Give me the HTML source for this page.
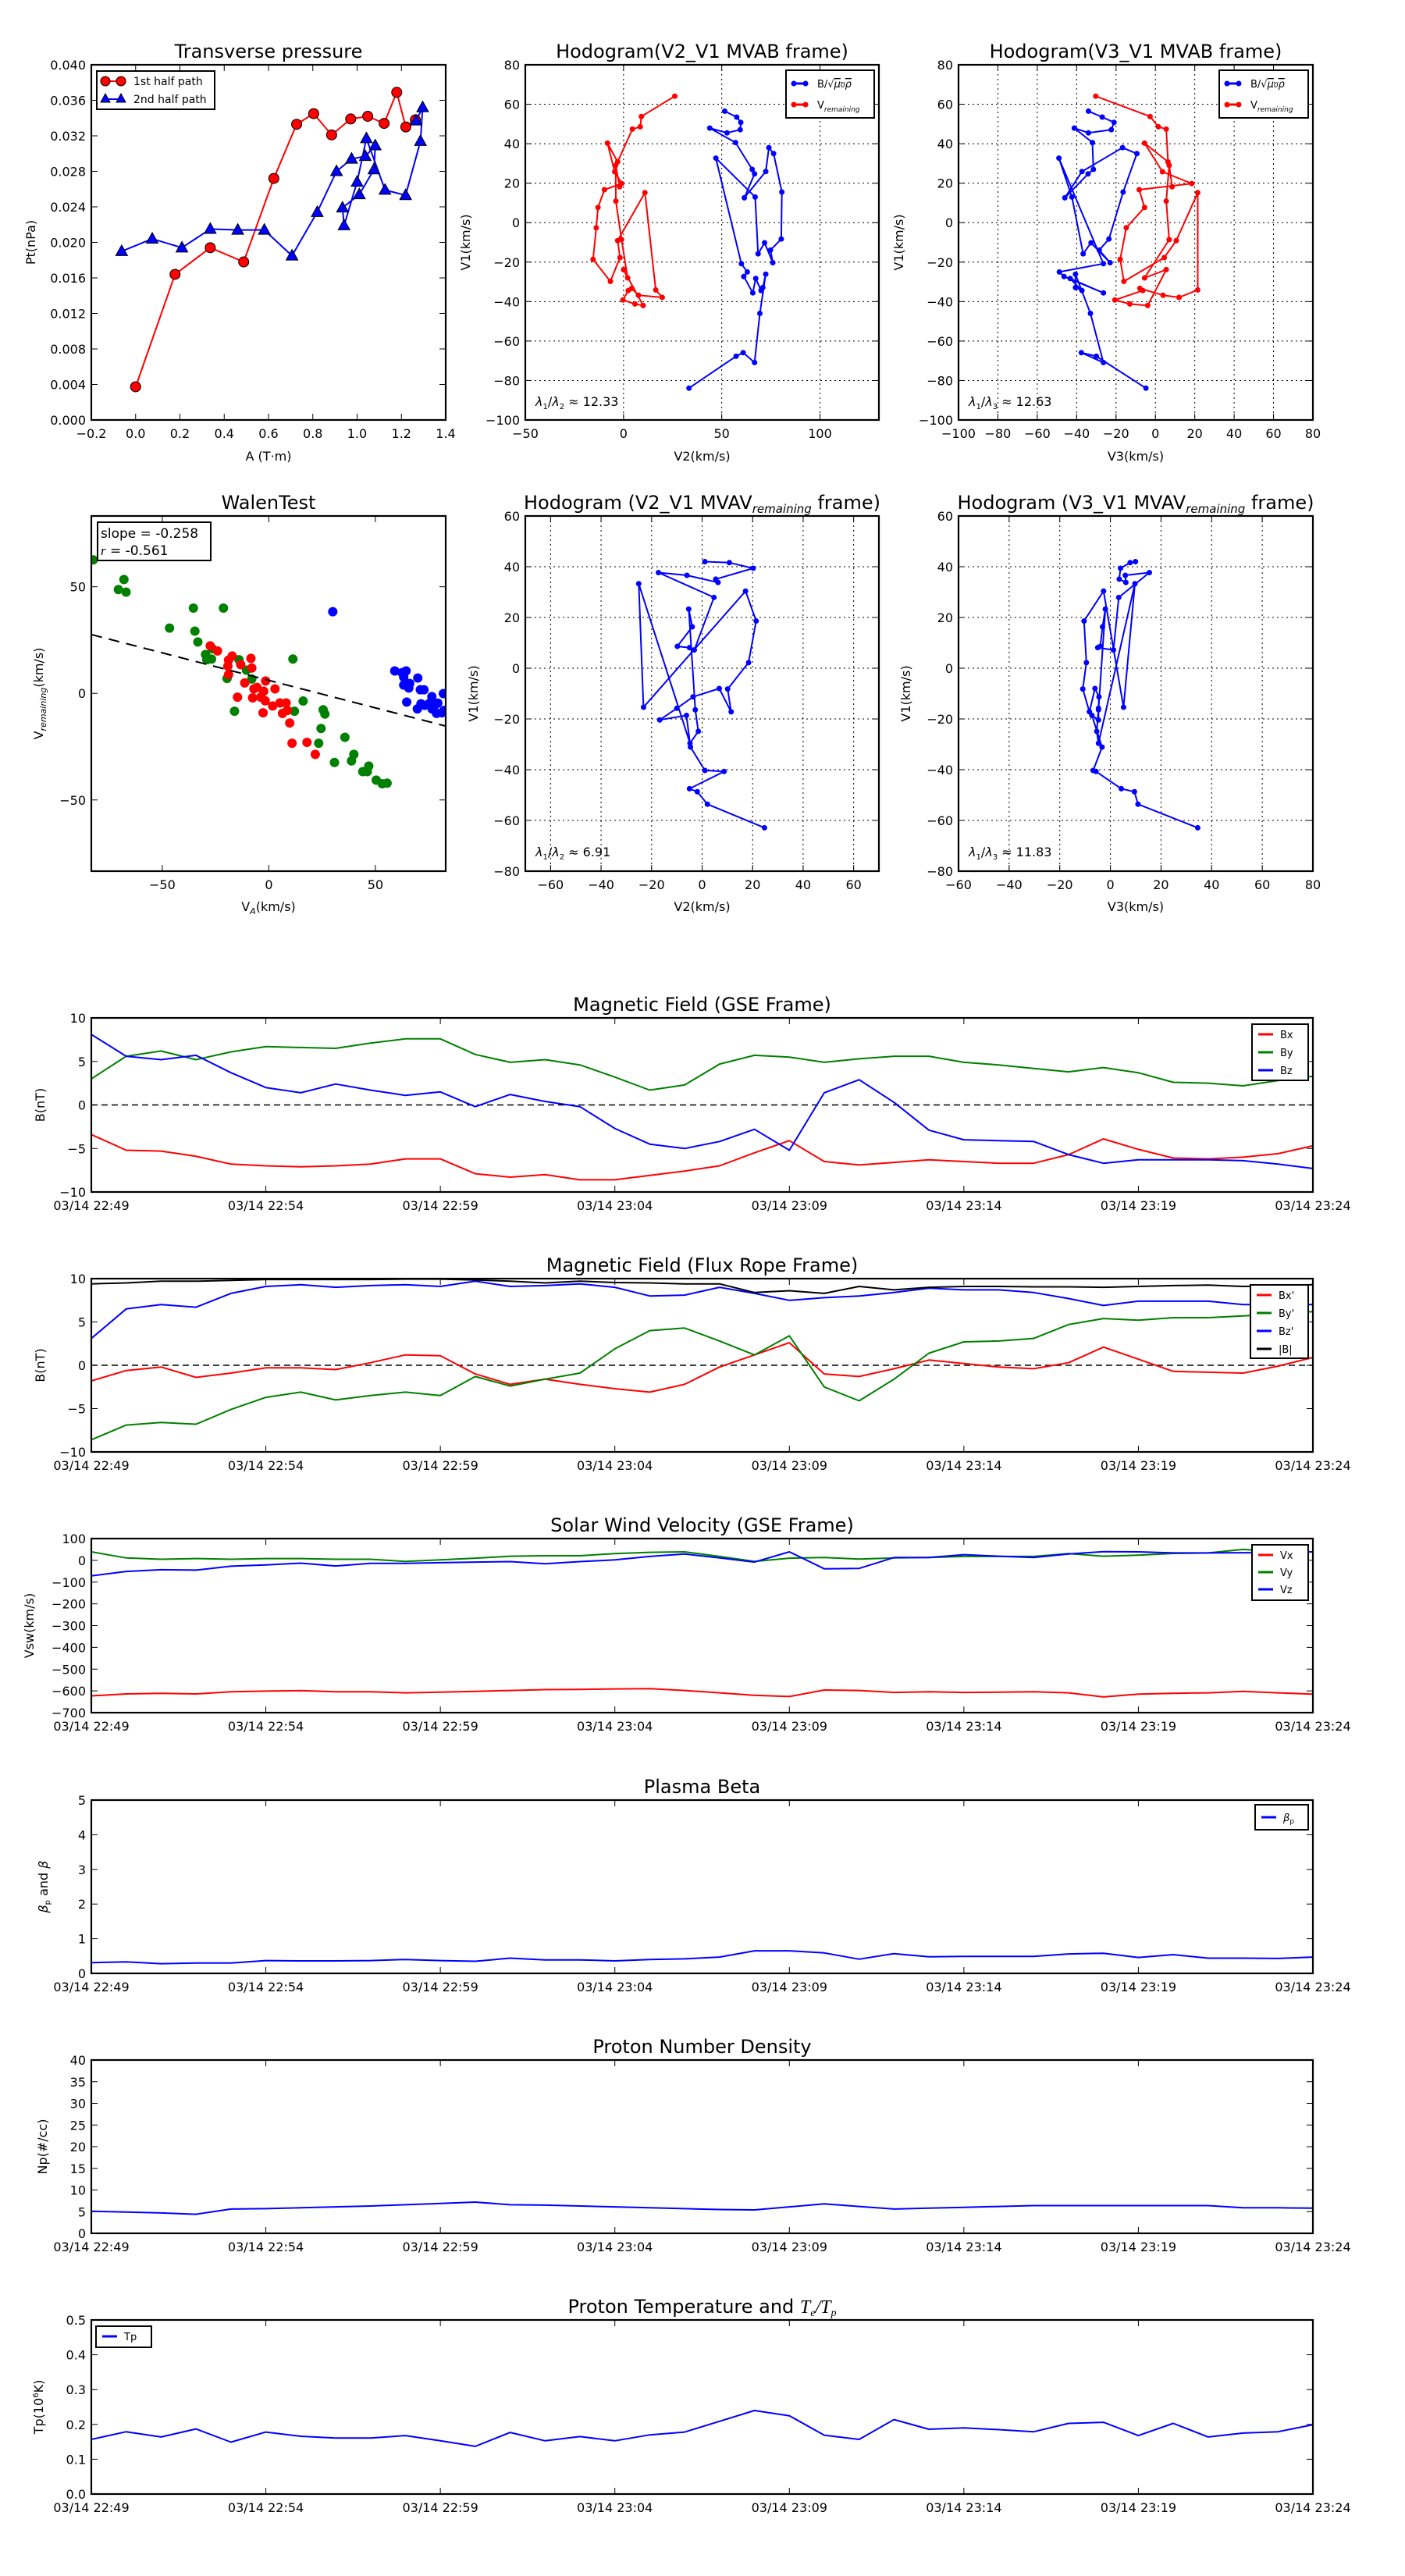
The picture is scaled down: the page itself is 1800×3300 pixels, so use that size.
<!DOCTYPE html>
<html>
<head>
<meta charset="utf-8">
<style>
html,body{margin:0;padding:0;background:#fff;}
svg{display:block;font-family:"DejaVu Sans","Liberation Sans",sans-serif;}
</style>
</head>
<body>
<svg id="fig" xmlns="http://www.w3.org/2000/svg" width="1800" height="3300" viewBox="0 0 1800 3300"></svg>
<script>
// ---------- DATA ----------
// Transverse pressure
const tpA1 = [0,0.178,0.337,0.488,0.624,0.727,0.804,0.885,0.971,1.048,1.122,1.179,1.220,1.263];
const tpP1 = [0.00374,0.0164,0.0194,0.0178,0.0272,0.0333,0.0345,0.0321,0.0339,0.0342,0.0334,0.0369,0.0330,0.0338];
const tpA2 = [-0.063,0.075,0.209,0.337,0.461,0.581,0.706,0.820,0.907,0.975,1.037,1.082,1.076,1.010,0.934,0.941,1.000,1.042,1.126,1.219,1.286,1.296,1.266];
const tpP2 = [0.0190,0.0204,0.0194,0.0215,0.0214,0.0214,0.0185,0.0234,0.0280,0.0294,0.0297,0.0309,0.0282,0.0254,0.0239,0.0219,0.0268,0.0317,0.0259,0.0253,0.0314,0.0352,0.0337];
// MVAB hodogram - B
const hbV1 = [56.5,53.5,50.8,47.1,45.5,47.9,40.6,27,24.7,12.6,25.9,38,35,15.5,-8.3,-13.9,-20.3,-10.2,-15.8,13,32.7,-20.8,-25,-27.3,-35.6,-28.3,-34.4,-32.9,-26.1,-46,-70.9,-65.9,-67.7,-83.9];
const hbV2 = [51.5,57.6,59.7,59.4,52.7,43.9,57,65.5,66.7,61.5,72.4,74,76.4,80.6,80.3,74.8,76,71.8,68.5,67,47,60,63,61.2,65.8,67.3,70,70.9,72.4,69.4,66.7,60.9,57.3,33.3];
const hbV3 = [-34,-27,-21,-22.4,-34,-41.2,-32,-31.5,-34.2,-46,-37.3,-16.7,-9.4,-16.4,-23.6,-28.5,-23,-32.7,-36.7,-42.4,-49,-26.4,-48.8,-46.4,-26.4,-43.3,-37.3,-40.6,-40.6,-33,-26.4,-37.6,-30,-4.8];
// MVAB hodogram - V remaining
const hrV1 = [64.1,53.8,48.6,47.4,30.8,40.3,25.8,19.8,16.7,7.7,-2.6,-18.6,-29.8,-17.7,-9.1,15.2,-34.1,-37.9,-36.8,-33.3,-34.4,-39.2,-41.2,-42,-23.8,-28,-8.6,10.9,29,18.2];
const hrV2 = [26.1,9.1,8.5,4.5,-3,-8.2,-4.5,-0.9,-9.7,-13,-13.9,-15.5,-6.7,-1.8,-3,10.9,16.4,19.7,7.6,4.2,2.4,-0.3,5.8,10,0,2.1,-1,-3.9,-4,-2];
const hrV3 = [-30.3,-2.7,1.5,5.5,6.4,-5.5,3.6,18.5,-8.2,-5.5,-14.8,-17.9,-16,4.5,10.6,21.5,21.5,12,3.9,-7.9,-6.4,-20.6,-13,-3.9,5.5,-5.5,7,5.5,7,8.5];
// MVAV hodogram
const mvV1 = [42,41.6,39.4,35.1,33.8,36.6,37.7,27.9,7.2,8.1,8.6,16.3,23.3,-16.4,-24.9,-29.6,33.3,-15.4,30.4,18.6,2.2,-8.2,-17.2,-8.0,-11.3,-15.8,-20.4,-18.6,-31.1,-40.3,-40.7,-47.5,-48.7,-53.6,-62.9];
const mvV2 = [1.1,10.8,20.2,5.4,6.3,-6,-17.3,4.7,-3.1,-5,-9.8,-3.9,-5.3,-2.7,-1.5,-4.8,-25.1,-23.2,17.2,21.4,18.4,10.1,11.5,6.8,-3.6,-10,-16.8,-6.2,-4.6,1.1,8.7,-5,-1.9,2.1,24.7];
const mvV3 = [9.9,7.8,4.0,3.5,6.1,5.9,15.4,3.3,1.2,-5,-4,-3.1,-2,-4.7,-5.4,-4.7,9.7,5.2,-2.7,-10.4,-9.5,-10.9,-8.3,-6.1,-4.5,-4.7,-4.7,-7.3,-3.3,-6.8,-5.7,4.3,9.5,10.9,34.5];
// Walen test
const wGx = [-82.4,-68,-70.6,-67,-46.6,-35.4,-21.3,-34.7,-33.3,-26.5,-29.7,-29.1,-26.9,-14,-10.5,-19.6,-8,11.3,-16.1,12,16.1,25.5,26.3,24.5,23.4,35.7,39.9,38.8,30.8,46.9,44.1,46.2,50.4,53.2,55.5];
const wGy = [62.6,53.4,48.7,47.5,30.6,40,40,29.2,24.1,20.9,18.2,15.8,16.1,15.8,10.9,7,6.7,16.1,-8.4,-8.4,-3.6,-7.7,-9.7,-16.5,-23.4,-20.6,-28.6,-31.7,-32.4,-34.1,-36.7,-36.7,-40.7,-42.4,-42.1];
const wRx = [-27.5,-24.1,-18.9,-17.2,-19.2,-13.2,-18.9,-8.4,-8,-11.3,-1.5,-7,-5.6,-7.6,-2.4,-3.8,-1.7,2.9,1.8,5.2,8.1,6.4,8.7,-14.7,-2.7,9.8,10.9,17.9,21.8];
const wRy = [22.3,19.9,15.6,17.5,12.8,13.5,8.8,16.4,11.9,4.9,5.8,2.1,2.8,-2.1,1,-1.8,-3.5,2.1,-5.9,-4.5,-4.5,-9.4,-8,-1.8,-9.1,-13.9,-23.4,-23,-28.6];
const wBx = [30,59.1,62.5,64.4,63.3,66.1,63.3,65.7,69.9,71.1,72.8,64.7,76.5,71.4,69.7,73.1,75.6,79.3,76.6,78.7,81.9,82.2,77.7,81.2];
const wBy = [38.3,10.5,9.7,10.5,7.6,4.6,3.9,2.5,7.2,1.7,1.7,-4.1,-1.5,-4.9,-7.3,-5.6,-4.5,-4.6,-7.3,-9.4,-0.1,-8,-5.9,-9.1];
const walenSlope = -0.258;
const walenIntercept = 6.1;
// Time series (one sample per minute, 22:49 .. 23:24)
const timeTicks = ['03/14 22:49','03/14 22:54','03/14 22:59','03/14 23:04','03/14 23:09','03/14 23:14','03/14 23:19','03/14 23:24'];
const Bx = [-3.4,-5.2,-5.3,-5.9,-6.8,-7.0,-7.1,-7.0,-6.8,-6.2,-6.2,-7.9,-8.3,-8.0,-8.6,-8.6,-8.1,-7.6,-7.0,-5.5,-4.1,-6.5,-6.9,-6.6,-6.3,-6.5,-6.7,-6.7,-5.7,-3.9,-5.1,-6.1,-6.2,-6.0,-5.6,-4.7];
const By = [3.0,5.6,6.2,5.2,6.1,6.7,6.6,6.5,7.1,7.6,7.6,5.8,4.9,5.2,4.6,3.2,1.7,2.3,4.7,5.7,5.5,4.9,5.3,5.6,5.6,4.9,4.6,4.2,3.8,4.3,3.7,2.6,2.5,2.2,2.8,3.3];
const Bz = [8.1,5.6,5.2,5.7,3.7,2.0,1.4,2.4,1.7,1.1,1.5,-0.2,1.2,0.4,-0.2,-2.7,-4.5,-5.0,-4.2,-2.8,-5.2,1.4,2.9,0.3,-2.9,-4.0,-4.1,-4.2,-5.7,-6.7,-6.3,-6.3,-6.3,-6.4,-6.8,-7.3];
const Bxp = [-1.8,-0.6,-0.2,-1.4,-0.9,-0.3,-0.3,-0.5,0.3,1.2,1.1,-1.0,-2.2,-1.6,-2.2,-2.7,-3.1,-2.2,-0.2,1.2,2.6,-1.0,-1.3,-0.4,0.6,0.2,-0.2,-0.4,0.3,2.1,0.7,-0.7,-0.8,-0.9,-0.1,0.9];
const Byp = [-8.6,-6.9,-6.6,-6.8,-5.1,-3.7,-3.1,-4.0,-3.5,-3.1,-3.5,-1.3,-2.4,-1.6,-0.9,1.9,4.0,4.3,2.8,1.2,3.4,-2.5,-4.1,-1.6,1.4,2.7,2.8,3.1,4.7,5.4,5.2,5.5,5.5,5.7,5.9,6.2];
const Bzp = [3.1,6.5,7.0,6.7,8.3,9.1,9.3,9.0,9.2,9.3,9.1,9.7,9.1,9.2,9.4,9.0,8.0,8.1,9.0,8.3,7.5,7.8,8.0,8.4,8.9,8.7,8.7,8.4,7.7,6.9,7.4,7.4,7.4,7.0,7.0,7.0];
const Bmag = [9.4,9.5,9.7,9.7,9.8,9.9,9.9,9.9,9.9,9.95,9.95,9.85,9.7,9.5,9.7,9.55,9.5,9.4,9.4,8.4,8.6,8.3,9.1,8.7,9.0,9.1,9.1,9.05,9.05,9.0,9.1,9.2,9.25,9.1,9.2,9.3];
const Vx = [-623,-614,-611,-614,-604,-601,-599,-604,-604,-609,-606,-602,-598,-594,-593,-591,-590,-598,-609,-620,-626,-596,-598,-607,-604,-607,-606,-604,-609,-628,-615,-611,-609,-602,-609,-615];
const Vy = [39,11,5,8,5,8,8,5,5,-5,2,10,19,21,21,31,37,39,18,-5,10,13,6,11,13,18,18,18,31,19,24,32,34,50,39,39];
const Vz = [-71,-51,-43,-45,-27,-21,-13,-26,-14,-14,-11,-8,-6,-16,-6,2,18,29,11,-8,39,-39,-37,13,13,26,19,13,29,40,39,34,34,35,35,39];
const betaP = [0.31,0.33,0.28,0.30,0.30,0.37,0.36,0.36,0.37,0.40,0.37,0.35,0.44,0.39,0.39,0.36,0.40,0.42,0.47,0.65,0.65,0.59,0.41,0.57,0.48,0.49,0.49,0.49,0.56,0.58,0.46,0.54,0.44,0.44,0.43,0.47];
const Np = [5.1,4.9,4.7,4.4,5.6,5.7,5.9,6.1,6.3,6.6,6.9,7.2,6.6,6.5,6.3,6.1,5.9,5.7,5.5,5.4,6.1,6.8,6.2,5.6,5.8,6.0,6.2,6.4,6.4,6.4,6.4,6.4,6.4,5.9,5.9,5.8];
const Tp = [0.157,0.179,0.164,0.187,0.149,0.178,0.166,0.161,0.161,0.168,0.153,0.137,0.177,0.153,0.165,0.153,0.17,0.178,0.209,0.240,0.225,0.169,0.157,0.214,0.186,0.19,0.185,0.179,0.203,0.206,0.168,0.203,0.164,0.175,0.179,0.199];

// ---------- DRAWING ----------
const NS = 'http://www.w3.org/2000/svg';
const svg = document.getElementById('fig');
const RED = '#ff0000', GREEN = '#008000', BLUE = '#0000ff';

function mk(tag, attrs, name, parent) {
  const el = document.createElementNS(NS, tag);
  for (const k in attrs) el.setAttribute(k, attrs[k]);
  
  
  (parent || svg).appendChild(el);
  return el;
}
function txt(x, y, s, name, opts) {
  opts = opts || {};
  const t = mk('text', {x: x, y: y, 'font-size': opts.size || 16, 'text-anchor': opts.anchor || 'middle', fill: '#000', 'dominant-baseline': opts.base || 'auto'}, name, opts.parent);
  if (opts.rotate) t.setAttribute('transform', 'rotate(-90 ' + x + ' ' + y + ')');
  if (opts.html) t.innerHTML = s; else t.textContent = s;
  return t;
}
function fmtNum(v, dec) {
  const s = Math.abs(v).toFixed(dec);
  return (v < -1e-9 ? '\u2212' : '') + s;
}
// axes
function axes(cfg) {
  const g = mk('g', {}, cfg.name);
  const sx = v => cfg.x0 + (v - cfg.xmin) / (cfg.xmax - cfg.xmin) * (cfg.x1 - cfg.x0);
  const sy = v => cfg.y1 - (v - cfg.ymin) / (cfg.ymax - cfg.ymin) * (cfg.y1 - cfg.y0);
  const clip = mk('clipPath', {id: cfg.name + '-clip'}, cfg.name + '-clip', g);
  mk('rect', {x: cfg.x0, y: cfg.y0, width: cfg.x1 - cfg.x0, height: cfg.y1 - cfg.y0}, 'clip-rect', clip);
  const tl = 8;
  // x ticks
  cfg.xticks.forEach((v, i) => {
    const X = sx(v);
    if (cfg.grid) mk('line', {x1: X, y1: cfg.y0, x2: X, y2: cfg.y1, stroke: '#000', 'stroke-width': 1, 'stroke-dasharray': '2,4'}, 'x-grid-line', g);
    mk('line', {x1: X, y1: cfg.y1, x2: X, y2: cfg.y1 - tl, stroke: '#000', 'stroke-width': 1}, 'x-tick', g);
    mk('line', {x1: X, y1: cfg.y0, x2: X, y2: cfg.y0 + tl, stroke: '#000', 'stroke-width': 1}, 'x-tick-top', g);
    txt(X, cfg.y1 + 23, cfg.xlabels ? cfg.xlabels[i] : fmtNum(v, cfg.xdec || 0), 'x-tick-label', {parent: g, size: cfg.tsize || 16});
  });
  cfg.yticks.forEach((v, i) => {
    const Y = sy(v);
    if (cfg.grid) mk('line', {x1: cfg.x0, y1: Y, x2: cfg.x1, y2: Y, stroke: '#000', 'stroke-width': 1, 'stroke-dasharray': '2,4'}, 'y-grid-line', g);
    mk('line', {x1: cfg.x0, y1: Y, x2: cfg.x0 + tl, y2: Y, stroke: '#000', 'stroke-width': 1}, 'y-tick', g);
    mk('line', {x1: cfg.x1, y1: Y, x2: cfg.x1 - tl, y2: Y, stroke: '#000', 'stroke-width': 1}, 'y-tick-right', g);
    txt(cfg.x0 - 7, Y + 6, cfg.ylabels ? cfg.ylabels[i] : fmtNum(v, cfg.ydec || 0), 'y-tick-label', {parent: g, anchor: 'end', size: cfg.tsize || 16});
  });
  const plot = mk('g', {'clip-path': 'url(#' + cfg.name + '-clip)'}, cfg.name + '-plot-area', g);
  const frame = () => mk('rect', {x: cfg.x0, y: cfg.y0, width: cfg.x1 - cfg.x0, height: cfg.y1 - cfg.y0, fill: 'none', stroke: '#000', 'stroke-width': 2.2}, 'axes-frame', g);
  if (cfg.title) txt((cfg.x0 + cfg.x1) / 2, cfg.y0 - 9, cfg.title, 'chart-title', {parent: g, size: 24, html: cfg.titleHtml});
  if (cfg.xtitle) txt((cfg.x0 + cfg.x1) / 2, cfg.xtY, cfg.xtitle, 'x-axis-title', {parent: g, size: 16, html: cfg.xtHtml});
  if (cfg.ytitle) txt(cfg.ytX, (cfg.y0 + cfg.y1) / 2, cfg.ytitle, 'y-axis-title', {parent: g, size: 16, rotate: true, html: cfg.ytHtml});
  return {sx, sy, g, plot, frame};
}
function polyline(ax, xs, ys, color, name, w) {
  const pts = xs.map((x, i) => ax.sx(x).toFixed(1) + ',' + ax.sy(ys[i]).toFixed(1)).join(' ');
  return mk('polyline', {points: pts, fill: 'none', stroke: color, 'stroke-width': w || 2, 'stroke-linejoin': 'round'}, name, ax.plot);
}
function dots(ax, xs, ys, color, r, name, outline) {
  xs.forEach((x, i) => {
    const c = mk('circle', {cx: ax.sx(x), cy: ax.sy(ys[i]), r: r, fill: color}, name, ax.plot);
    if (outline) { c.setAttribute('stroke', '#000'); c.setAttribute('stroke-width', 1); }
  });
}
function tris(ax, xs, ys, color, name) {
  xs.forEach((x, i) => {
    const X = ax.sx(x), Y = ax.sy(ys[i]);
    mk('polygon', {points: (X) + ',' + (Y - 8) + ' ' + (X - 7.5) + ',' + (Y + 5.5) + ' ' + (X + 7.5) + ',' + (Y + 5.5), fill: color, stroke: '#000', 'stroke-width': 1}, name, ax.plot);
  });
}
function legend(x, y, w, h, entries, name, rowH, first, marker) {
  const g = mk('g', {}, name);
  mk('rect', {x: x, y: y, width: w, height: h, fill: '#fff', stroke: '#000', 'stroke-width': 2}, 'legend-box', g);
  entries.forEach((e, i) => {
    const Y = y + first + i * rowH;
    mk('line', {x1: x + 8, y1: Y, x2: x + 27, y2: Y, stroke: e.color, 'stroke-width': 3}, 'legend-swatch', g);
    if (marker) {
      mk('circle', {cx: x + 10, cy: Y, r: 3.5, fill: e.color}, 'legend-marker', g);
      mk('circle', {cx: x + 25, cy: Y, r: 3.5, fill: e.color}, 'legend-marker', g);
    }
    txt(x + (marker ? 40 : 36), Y + 5, e.label, 'legend-entry', {parent: g, anchor: 'start', size: e.size || 13, html: true});
  });
  return g;
}
const range = (a, b, s) => { const r = []; for (let v = a; v <= b + 1e-9; v += s) r.push(+v.toFixed(6)); return r; };

// ---- Transverse pressure ----
const a1 = axes({name: 'transverse-pressure', x0: 117, x1: 571, y0: 83, y1: 538, xmin: -0.2, xmax: 1.4, ymin: 0, ymax: 0.04,
  xticks: range(-0.2, 1.4, 0.2), xdec: 1, yticks: range(0, 0.04, 0.004), ydec: 3,
  title: 'Transverse pressure', xtitle: 'A (T\u00b7m)', xtY: 590, ytitle: 'Pt(nPa)', ytX: 45});
polyline(a1, tpA1, tpP1, RED, 'first-half-line', 2);
polyline(a1, tpA2, tpP2, BLUE, 'second-half-line', 2);
dots(a1, tpA1, tpP1, RED, 6.5, 'first-half-point', true);
tris(a1, tpA2, tpP2, BLUE, 'second-half-point');
a1.frame();
{
  const g = mk('g', {}, 'pressure-legend');
  mk('rect', {x: 124, y: 91, width: 151, height: 49, fill: '#fff', stroke: '#000', 'stroke-width': 2}, 'legend-box', g);
  mk('line', {x1: 135, y1: 104, x2: 155, y2: 104, stroke: RED, 'stroke-width': 2}, 'legend-swatch', g);
  mk('circle', {cx: 135, cy: 104, r: 6, fill: RED, stroke: '#000'}, 'legend-marker', g);
  mk('circle', {cx: 155, cy: 104, r: 6, fill: RED, stroke: '#000'}, 'legend-marker', g);
  txt(171, 109, '1st half path', 'legend-entry', {parent: g, anchor: 'start', size: 14});
  mk('line', {x1: 135, y1: 127, x2: 155, y2: 127, stroke: BLUE, 'stroke-width': 2}, 'legend-swatch', g);
  mk('polygon', {points: '135,120 129,131 141,131', fill: BLUE, stroke: '#000'}, 'legend-marker', g);
  mk('polygon', {points: '155,120 149,131 161,131', fill: BLUE, stroke: '#000'}, 'legend-marker', g);
  txt(171, 132, '2nd half path', 'legend-entry', {parent: g, anchor: 'start', size: 14});
}

// ---- Hodogram MVAB V2 ----
const a2 = axes({name: 'hodogram-v2-mvab', x0: 673, x1: 1126, y0: 83, y1: 538, xmin: -50, xmax: 130, ymin: -100, ymax: 80,
  xticks: [-50, 0, 50, 100], yticks: range(-100, 80, 20), grid: true,
  title: 'Hodogram(V2_V1 MVAB frame)', xtitle: 'V2(km/s)', xtY: 590, ytitle: 'V1(km/s)', ytX: 602});
polyline(a2, hbV2, hbV1, BLUE, 'b-hodogram-line', 2);
dots(a2, hbV2, hbV1, BLUE, 3.5, 'b-hodogram-point');
polyline(a2, hrV2, hrV1, RED, 'v-hodogram-line', 2);
dots(a2, hrV2, hrV1, RED, 3.5, 'v-hodogram-point');
a2.frame();
txt(686, 520, '<tspan font-style="italic">\u03bb</tspan><tspan font-size="10" dy="4">1</tspan><tspan dy="-4">/</tspan><tspan font-style="italic">\u03bb</tspan><tspan font-size="10" dy="4">2</tspan><tspan dy="-4"> \u2248 12.33</tspan>', 'eigen-ratio', {anchor: 'start', size: 16, html: true});
legend(1007, 90, 113, 61, [{color: BLUE, label: 'B/\u221a<tspan font-style="italic" text-decoration="overline">\u03bc<tspan font-size="9">0</tspan>\u03c1</tspan>'}, {color: RED, label: 'V<tspan font-size="9" font-style="italic" dy="4">remaining</tspan>'}], 'hodogram-v2-legend', 27, 17, true);

// ---- Hodogram MVAB V3 ----
const a3 = axes({name: 'hodogram-v3-mvab', x0: 1228, x1: 1682, y0: 83, y1: 538, xmin: -100, xmax: 80, ymin: -100, ymax: 80,
  xticks: range(-100, 80, 20), yticks: range(-100, 80, 20), grid: true,
  title: 'Hodogram(V3_V1 MVAB frame)', xtitle: 'V3(km/s)', xtY: 590, ytitle: 'V1(km/s)', ytX: 1157});
polyline(a3, hbV3, hbV1, BLUE, 'b-hodogram-line', 2);
dots(a3, hbV3, hbV1, BLUE, 3.5, 'b-hodogram-point');
polyline(a3, hrV3, hrV1, RED, 'v-hodogram-line', 2);
dots(a3, hrV3, hrV1, RED, 3.5, 'v-hodogram-point');
a3.frame();
txt(1241, 520, '<tspan font-style="italic">\u03bb</tspan><tspan font-size="10" dy="4">1</tspan><tspan dy="-4">/</tspan><tspan font-style="italic">\u03bb</tspan><tspan font-size="10" dy="4">3</tspan><tspan dy="-4"> \u2248 12.63</tspan>', 'eigen-ratio', {anchor: 'start', size: 16, html: true});
legend(1562, 90, 114, 61, [{color: BLUE, label: 'B/\u221a<tspan font-style="italic" text-decoration="overline">\u03bc<tspan font-size="9">0</tspan>\u03c1</tspan>'}, {color: RED, label: 'V<tspan font-size="9" font-style="italic" dy="4">remaining</tspan>'}], 'hodogram-v3-legend', 27, 17, true);

// ---- Walen test ----
const a4 = axes({name: 'walen-test', x0: 117, x1: 571, y0: 661, y1: 1116, xmin: -83.3, xmax: 83, ymin: -83.4, ymax: 83.2,
  xticks: [-50, 0, 50], yticks: [-50, 0, 50],
  title: 'WalenTest', xtitle: 'V<tspan font-size="11" font-style="italic" dy="4">A</tspan><tspan dy="-4">(km/s)</tspan>', xtHtml: true, xtY: 1167,
  ytitle: 'V<tspan font-size="11" font-style="italic" dy="4">remaining</tspan><tspan dy="-4">(km/s)</tspan>', ytHtml: true, ytX: 55});
dots(a4, wGx, wGy, GREEN, 6, 'walen-green-point');
dots(a4, wRx, wRy, RED, 6, 'walen-red-point');
dots(a4, wBx, wBy, BLUE, 6, 'walen-blue-point');
{
  const fx = [-83.3, 83];
  const fy = fx.map(x => walenSlope * x + walenIntercept);
  const l = polyline(a4, fx, fy, '#000', 'walen-fit-line', 2);
  l.setAttribute('stroke-dasharray', '14,9');
}
a4.frame();
{
  const g = mk('g', {}, 'walen-stats-box');
  mk('rect', {x: 125, y: 669, width: 145, height: 49, fill: '#fff', stroke: '#000', 'stroke-width': 2}, 'stats-box', g);
  txt(129, 689, 'slope = ' + walenSlope.toFixed(3), 'slope-text', {parent: g, anchor: 'start', size: 17});
  txt(129, 711, '<tspan font-style="italic" font-family="Liberation Serif">r</tspan> = -0.561', 'r-text', {parent: g, anchor: 'start', size: 17, html: true});
}

// ---- Hodogram MVAV V2 ----
const a5 = axes({name: 'hodogram-v2-mvav', x0: 673, x1: 1126, y0: 661, y1: 1116, xmin: -70, xmax: 70, ymin: -80, ymax: 60,
  xticks: range(-60, 60, 20), yticks: range(-80, 60, 20), grid: true,
  title: 'Hodogram (V2_V1 MVAV<tspan font-size="15" font-style="italic" dy="5">remaining</tspan><tspan dy="-5"> frame)</tspan>', titleHtml: true,
  xtitle: 'V2(km/s)', xtY: 1167, ytitle: 'V1(km/s)', ytX: 612});
polyline(a5, mvV2, mvV1, BLUE, 'mvav-hodogram-line', 2);
dots(a5, mvV2, mvV1, BLUE, 3.5, 'mvav-hodogram-point');
a5.frame();
txt(686, 1097, '<tspan font-style="italic">\u03bb</tspan><tspan font-size="10" dy="4">1</tspan><tspan dy="-4">/</tspan><tspan font-style="italic">\u03bb</tspan><tspan font-size="10" dy="4">2</tspan><tspan dy="-4"> \u2248 6.91</tspan>', 'eigen-ratio', {anchor: 'start', size: 16, html: true});

// ---- Hodogram MVAV V3 ----
const a6 = axes({name: 'hodogram-v3-mvav', x0: 1228, x1: 1682, y0: 661, y1: 1116, xmin: -60, xmax: 80, ymin: -80, ymax: 60,
  xticks: range(-60, 80, 20), yticks: range(-80, 60, 20), grid: true,
  title: 'Hodogram (V3_V1 MVAV<tspan font-size="15" font-style="italic" dy="5">remaining</tspan><tspan dy="-5"> frame)</tspan>', titleHtml: true,
  xtitle: 'V3(km/s)', xtY: 1167, ytitle: 'V1(km/s)', ytX: 1166});
polyline(a6, mvV3, mvV1, BLUE, 'mvav-hodogram-line', 2);
dots(a6, mvV3, mvV1, BLUE, 3.5, 'mvav-hodogram-point');
a6.frame();
txt(1241, 1097, '<tspan font-style="italic">\u03bb</tspan><tspan font-size="10" dy="4">1</tspan><tspan dy="-4">/</tspan><tspan font-style="italic">\u03bb</tspan><tspan font-size="10" dy="4">3</tspan><tspan dy="-4"> \u2248 11.83</tspan>', 'eigen-ratio', {anchor: 'start', size: 16, html: true});

// ---- Time series ----
const idx = Bx.map((_, i) => i);
const tIdx = timeTicks.map((_, i) => i * 5);
function tsAxes(name, top, bottom, ymin, ymax, yticks, ydec, title, ytitle, ytX, titleHtml, ytHtml) {
  return axes({name: name, x0: 117, x1: 1682, y0: top, y1: bottom, xmin: 0, xmax: 35, ymin: ymin, ymax: ymax,
    xticks: tIdx, xlabels: timeTicks, yticks: yticks, ydec: ydec, title: title, titleHtml: titleHtml,
    ytitle: ytitle, ytX: ytX, ytHtml: ytHtml});
}
function zeroLine(ax) {
  const l = polyline(ax, [0, 35], [0, 0], '#000', 'zero-line', 1.5);
  l.setAttribute('stroke-dasharray', '8,5');
}
// P1
const p1 = tsAxes('magnetic-field-gse', 1304, 1527, -10, 10, [-10, -5, 0, 5, 10], 0, 'Magnetic Field (GSE Frame)', 'B(nT)', 57);
zeroLine(p1);
polyline(p1, idx, Bx, RED, 'bx-line');
polyline(p1, idx, By, GREEN, 'by-line');
polyline(p1, idx, Bz, BLUE, 'bz-line');
p1.frame();
legend(1604, 1312, 72, 72, [{color: RED, label: 'Bx'}, {color: GREEN, label: 'By'}, {color: BLUE, label: 'Bz'}], 'gse-field-legend', 23, 13);
// P2
const p2 = tsAxes('magnetic-field-flux-rope', 1638, 1860, -10, 10, [-10, -5, 0, 5, 10], 0, 'Magnetic Field (Flux Rope Frame)', 'B(nT)', 57);
zeroLine(p2);
polyline(p2, idx, Bxp, RED, 'bx-prime-line');
polyline(p2, idx, Byp, GREEN, 'by-prime-line');
polyline(p2, idx, Bzp, BLUE, 'bz-prime-line');
polyline(p2, idx, Bmag, '#000', 'b-magnitude-line');
p2.frame();
legend(1602, 1646, 74, 94, [{color: RED, label: "Bx'"}, {color: GREEN, label: "By'"}, {color: BLUE, label: "Bz'"}, {color: '#000', label: '|B|'}], 'flux-rope-field-legend', 23, 13);
// P3
const p3 = tsAxes('solar-wind-velocity', 1971, 2194, -700, 100, range(-700, 100, 100), 0, 'Solar Wind Velocity (GSE Frame)', 'Vsw(km/s)', 43);
polyline(p3, idx, Vx, RED, 'vx-line');
polyline(p3, idx, Vy, GREEN, 'vy-line');
polyline(p3, idx, Vz, BLUE, 'vz-line');
p3.frame();
legend(1604, 1979, 72, 71, [{color: RED, label: 'Vx'}, {color: GREEN, label: 'Vy'}, {color: BLUE, label: 'Vz'}], 'velocity-legend', 22, 13);
// P4
const p4 = tsAxes('plasma-beta', 2306, 2528, 0, 5, range(0, 5, 1), 0, 'Plasma Beta',
  '<tspan font-style="italic">\u03b2</tspan><tspan font-size="10" dy="3">p</tspan><tspan dy="-3"> and </tspan><tspan font-style="italic">\u03b2</tspan>', 61, false, true);
polyline(p4, idx, betaP, BLUE, 'beta-p-line');
p4.frame();
legend(1608, 2312, 68, 32, [{color: BLUE, label: '<tspan font-style="italic">\u03b2</tspan><tspan font-size="9" dy="3">p</tspan>'}], 'beta-legend', 22, 16);
// P5
const p5 = tsAxes('proton-density', 2639, 2861, 0, 40, range(0, 40, 5), 0, 'Proton Number Density', 'Np(#/cc)', 60);
polyline(p5, idx, Np, BLUE, 'np-line');
p5.frame();
// P6
const p6 = tsAxes('proton-temperature', 2972, 3195, 0, 0.5, range(0, 0.5, 0.1), 1,
  'Proton Temperature and <tspan font-style="italic" font-family="Liberation Serif">T<tspan font-size="14" dy="4">e</tspan><tspan dy="-4">/T</tspan><tspan font-size="14" dy="4">p</tspan></tspan>',
  'Tp(10<tspan font-size="10" dy="-6">6</tspan><tspan dy="6">K)</tspan>', 55, true, true);
polyline(p6, idx, Tp, BLUE, 'tp-line');
p6.frame();
legend(123, 2980, 71, 27, [{color: BLUE, label: 'Tp'}], 'tp-legend', 22, 13);
</script>
</body>
</html>
